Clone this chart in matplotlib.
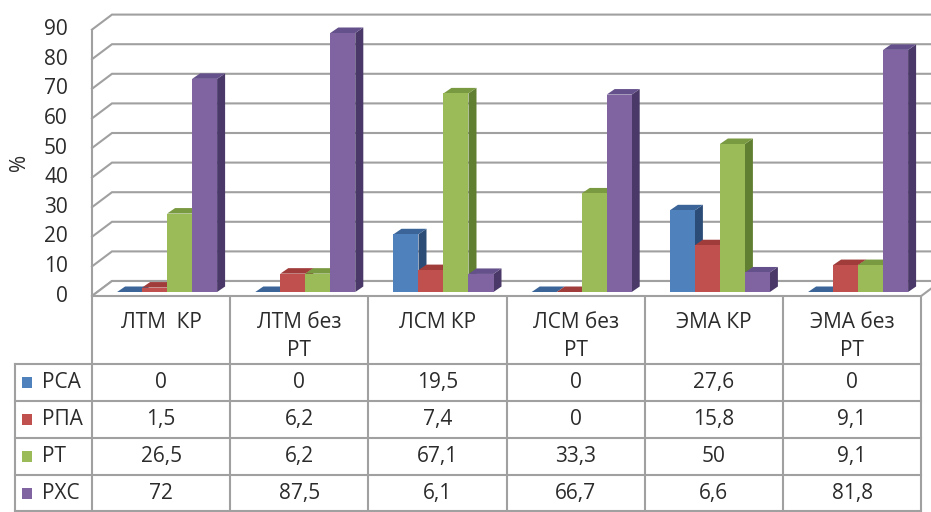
import matplotlib
matplotlib.use('Agg')
import matplotlib.pyplot as plt
from matplotlib.patches import Polygon, Rectangle

plt.rcParams['font.family'] = ['Open Sans', 'DejaVu Sans']
plt.rcParams['font.weight'] = 500

categories = ['ЛТМ  КР', 'ЛТМ без\nРТ', 'ЛСМ КР', 'ЛСМ без\nРТ', 'ЭМА КР', 'ЭМА без\nРТ']
series_names = ['РСА', 'РПА', 'РТ', 'РХС']
rsa = [0, 0, 19.5, 0, 27.6, 0]
rpa = [1.5, 6.2, 7.4, 0, 15.8, 9.1]
rt = [26.5, 6.2, 67.1, 33.3, 50, 9.1]
rhs = [72, 87.5, 6.1, 66.7, 6.6, 81.8]
y_ticks = list(range(0, 100, 10))
y_label = '%'

series = [rsa, rpa, rt, rhs]
front_cols = ['#4F81BD', '#C0504D', '#9BBB59', '#8064A2']
side_cols = ['#2C4C78', '#82302E', '#617F30', '#4A3968']
top_cols = ['#3B6598', '#A03D3A', '#7A9A42', '#64508A']

TEXT = '#2b2b2b'
GRID = '#a0a0a0'
FS = 15

W, H = 931, 512
fig = plt.figure(figsize=(W / 100, H / 100), dpi=100)

# pixel scale of the chart: one category per CW px, S px per percent
CW = 138.2
S = 2.96
X0, Y0 = 92, 292          # left edge of the category band, bar baseline (px)

ax = fig.add_axes([0, 0, 1, 1])
ax.set_xlim(-X0 / CW - 0.5, (W - X0) / CW - 0.5)
ax.set_ylim((Y0 - H) / S, Y0 / S)
ax.axis('off')

def dx(px):
    return px / CW

def dy(px):
    return px / S

n = len(categories)
# depth of the floor / walls
v_front = dy(-4)
v_back = dy(11)
x_left = -0.5
x_back = x_left + dx(20)
x_right = n - 0.5

# back wall gridlines and side wall diagonals
for v in y_ticks:
    ax.plot([x_left, x_back, ax.get_xlim()[1] + 1], [v + v_front, v + v_back, v + v_back],
            color=GRID, lw=1.5, zorder=1, solid_joinstyle='miter')
    ax.text(x_left - dx(24), v + v_front, str(v), ha='right', va='center',
            fontsize=FS, color=TEXT)
ax.plot([x_left, x_left], [v_front, y_ticks[-1] + v_front], color=GRID, lw=1.5, zorder=1)

# floor
floor = Polygon([(x_left, v_front), (x_right, v_front), (x_right + dx(20), v_back),
                 (x_back, v_back)], closed=True, facecolor='white', edgecolor=GRID,
                lw=1.5, zorder=1.5)
ax.add_patch(floor)

ax.text(x_left - dx(72), 45 + v_front, y_label, rotation=90, ha='center', va='center',
        fontsize=FS, color=TEXT)

# 3-D bars
bw = dx(25)
shift = dx(6)
ddx, ddy = dx(8), dy(5.5)
for i in range(n):
    for j, vals in enumerate(series):
        v = vals[i]
        xc = i + (j - 1.5) * bw + shift
        x0, x1 = xc - bw / 2, xc + bw / 2
        z = 3 + i * 4 + j
        side = Polygon([(x1, 0), (x1 + ddx, ddy), (x1 + ddx, v + ddy), (x1, v)],
                       closed=True, facecolor=side_cols[j], edgecolor='none', zorder=z)
        top = Polygon([(x0, v), (x1, v), (x1 + ddx, v + ddy), (x0 + ddx, v + ddy)],
                      closed=True, facecolor=top_cols[j], edgecolor='none', zorder=z)
        ax.add_patch(side)
        ax.add_patch(top)
        ax.bar([xc], [v], width=bw, color=front_cols[j], edgecolor='none', zorder=z + 0.5)

# data table below the floor
TAB_H = H - 296
tab = fig.add_axes([0, 0, 1, TAB_H / H])
tab.set_xlim(ax.get_xlim())
RH = 37.0
HEAD = 68 / RH
tab.set_ylim(TAB_H / RH, 0)
tab.axis('off')

x_lab = dx(15 - X0) - 0.5
rows = len(series)
bottom = TAB_H / RH - 0.04
for k in range(n + 1):
    tab.plot([k - 0.5, k - 0.5], [0, bottom], color=GRID, lw=1.5, zorder=1)
tab.plot([x_lab, x_lab], [HEAD, bottom], color=GRID, lw=1.5, zorder=1)
for r in range(rows + 1):
    yy = HEAD + r if r < rows else bottom
    tab.plot([x_lab, x_right], [yy, yy], color=GRID, lw=1.5, zorder=1)

for i, cat in enumerate(categories):
    for li, line in enumerate(cat.split('\n')):
        tab.text(i, (26 + 28 * li) / RH, line, ha='center', va='center', fontsize=FS,
                 color=TEXT)

for r, (name, vals) in enumerate(zip(series_names, series)):
    yc = HEAD + r + 0.5
    tab.add_patch(Rectangle((dx(22 - X0) - 0.5, yc - 5.5 / RH), dx(10), 11 / RH,
                            facecolor=front_cols[r], edgecolor='none', zorder=2))
    tab.text(dx(42 - X0) - 0.5, yc, name, ha='left', va='center', fontsize=FS, color=TEXT)
    for i, v in enumerate(vals):
        tab.text(i, yc, f'{v:g}'.replace('.', ','), ha='center', va='center',
                 fontsize=FS, color=TEXT)

fig.savefig('out.png', dpi=100)
